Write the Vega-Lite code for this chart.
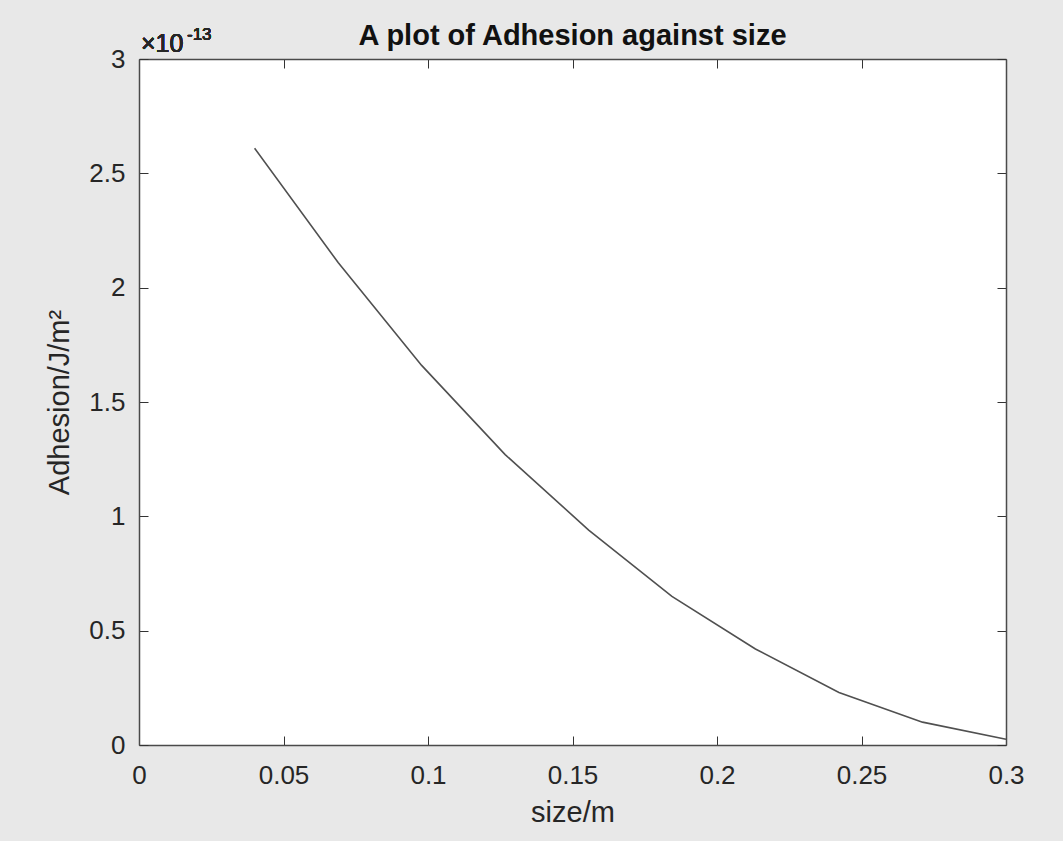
{
  "$schema": "https://vega.github.io/schema/vega-lite/v6.json",
  "width": 867,
  "height": 686,
  "autosize": {"type": "none"},
  "padding": {"left": 139, "top": 59, "right": 57, "bottom": 96},
  "background": "#e8e8e8",
  "config": {
    "view": {"fill": "white", "stroke": null},
    "font": "Liberation Sans",
    "axis": {
      "domainColor": "#4a4a4a",
      "domainWidth": 1.5,
      "tickColor": "#333333",
      "tickWidth": 1,
      "tickSize": -9,
      "grid": false,
      "labelFont": "Liberation Sans",
      "labelFontSize": 26,
      "labelColor": "#262626",
      "labelOverlap": false,
      "labelFlush": false,
      "titleFont": "Liberation Sans",
      "titleFontSize": 29,
      "titleFontWeight": "normal",
      "titleColor": "#262626"
    }
  },
  "title": {
    "text": "A plot of Adhesion against size",
    "font": "Liberation Sans",
    "fontSize": 29,
    "fontWeight": "bold",
    "color": "#111111",
    "anchor": "middle",
    "offset": -25
  },
  "data": {
    "values": [
      {"size": 0.04, "adhesion": 2.61e-13},
      {"size": 0.0689, "adhesion": 2.11e-13},
      {"size": 0.0978, "adhesion": 1.66e-13},
      {"size": 0.1267, "adhesion": 1.27e-13},
      {"size": 0.1556, "adhesion": 0.94e-13},
      {"size": 0.1844, "adhesion": 0.65e-13},
      {"size": 0.2133, "adhesion": 0.42e-13},
      {"size": 0.2422, "adhesion": 0.23e-13},
      {"size": 0.2711, "adhesion": 0.10e-13},
      {"size": 0.3, "adhesion": 0.025e-13}
    ]
  },
  "layer": [
    {
      "mark": {"type": "line", "color": "#505050", "strokeWidth": 1.6},
      "encoding": {
        "x": {
          "field": "size",
          "type": "quantitative",
          "scale": {"domain": [0, 0.3], "nice": false, "zero": false},
          "axis": {
            "orient": "bottom",
            "values": [0, 0.05, 0.1, 0.15, 0.2, 0.25, 0.3],
            "labelExpr": "format(datum.value, '.2~f')",
            "labelPadding": 26,
            "title": "size/m",
            "titlePadding": 10
          }
        },
        "y": {
          "field": "adhesion",
          "type": "quantitative",
          "scale": {"domain": [0, 3e-13], "nice": false, "zero": false},
          "axis": {
            "orient": "left",
            "values": [0, 0.5e-13, 1e-13, 1.5e-13, 2e-13, 2.5e-13, 3e-13],
            "labelExpr": "format(datum.value * 1e13, '.2~f')",
            "labelPadding": 23,
            "title": "Adhesion/J/m²",
            "titlePadding": 14
          }
        }
      }
    },
    {
      "mark": {"type": "line", "opacity": 0},
      "encoding": {
        "x": {
          "field": "size",
          "type": "quantitative",
          "axis": {
            "orient": "top",
            "values": [0, 0.05, 0.1, 0.15, 0.2, 0.25, 0.3],
            "labels": false,
            "title": null
          }
        },
        "y": {
          "field": "adhesion",
          "type": "quantitative",
          "axis": {
            "orient": "right",
            "values": [0, 0.5e-13, 1e-13, 1.5e-13, 2e-13, 2.5e-13, 3e-13],
            "labels": false,
            "title": null
          }
        }
      }
    },
    {
      "mark": {
        "type": "text",
        "text": "×10",
        "fontSize": 25,
        "font": "Liberation Sans",
        "color": "#262626",
        "align": "left",
        "baseline": "alphabetic",
        "dx": 2,
        "dy": -7
      },
      "encoding": {
        "x": {"datum": 0, "type": "quantitative", "axis": null},
        "y": {"datum": 3e-13, "type": "quantitative", "axis": null}
      }
    },
    {
      "mark": {
        "type": "text",
        "text": "-13",
        "fontSize": 17,
        "font": "Liberation Sans",
        "color": "#262626",
        "align": "left",
        "baseline": "alphabetic",
        "dx": 48,
        "dy": -19
      },
      "encoding": {
        "x": {"datum": 0, "type": "quantitative", "axis": null},
        "y": {"datum": 3e-13, "type": "quantitative", "axis": null}
      }
    }
  ],
  "resolve": {"axis": {"x": "independent", "y": "independent"}}
}
